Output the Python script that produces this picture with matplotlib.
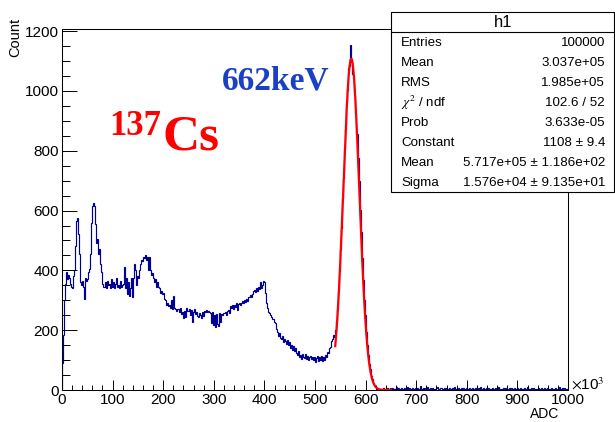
import numpy as np
import matplotlib
matplotlib.use("Agg")
import matplotlib.pyplot as plt
from matplotlib.patches import Rectangle
from matplotlib.ticker import MultipleLocator

plt.rcParams['font.family'] = ['Liberation Sans', 'DejaVu Sans']
plt.rcParams['mathtext.fontset'] = 'stix'

# ---------------- data (counts per 2x10^3 ADC bin) ----------------
bin_width = 2.0
x_min, x_max = 0, 1000

counts_0_100 = [
    90, 185, 300, 355, 395, 370, 385, 375, 355, 345,
    340, 380, 400, 480, 565, 575, 520, 455, 360, 350,
    365, 345, 305, 375, 365, 370, 395, 405, 455, 560,
    615, 625, 615, 555, 490, 505, 455, 470, 420, 395,
    355, 345, 360, 340, 365, 350, 355, 340, 370, 345,
]
counts_100_200 = [
    360, 340, 355, 375, 345, 350, 340, 365, 345, 350,
    355, 410, 340, 375, 320, 360, 315, 340, 375, 310,
    375, 420, 400, 350, 380, 375, 400, 420, 435, 430,
    445, 440, 450, 435, 445, 400, 445, 400, 385, 390,
    375, 360, 370, 345, 360, 345, 340, 325, 330, 320,
]
counts_200_300 = [
    325, 305, 300, 285, 290, 280, 285, 275, 300, 270,
    315, 275, 270, 265, 272, 270, 262, 275, 255, 260,
    240, 265, 245, 275, 265, 270, 250, 268, 228, 262,
    270, 255, 262, 248, 245, 258, 250, 240, 262, 248,
    265, 262, 268, 260, 265, 262, 258, 225, 262, 218,
]
counts_300_400 = [
    250, 210, 255, 222, 215, 258, 228, 255, 250, 258,
    256, 262, 250, 265, 268, 258, 282, 275, 285, 272,
    285, 278, 290, 268, 288, 292, 285, 290, 298, 292,
    300, 295, 305, 298, 312, 310, 318, 312, 322, 330,
    335, 328, 340, 332, 345, 338, 362, 340, 352, 365,
]
counts_400_540 = [
    362, 325, 290, 275, 260, 258, 250, 245, 238, 228,
    225, 205, 195, 182, 190, 175, 170, 180, 162, 172,
    165, 155, 168, 150, 160, 140, 150, 135, 148, 130,
    140, 125, 118, 130, 110, 118, 105, 122, 112, 108,
    120, 105, 115, 100, 110, 115, 104, 112, 100, 110,
    95, 108, 115, 98, 112, 100, 115, 98, 112, 100,
    118, 110, 128, 125, 140, 145, 165, 172, 185, 178,
]
counts_540_630 = [
    200, 232, 272, 330, 398, 472, 540, 642, 708, 810,
    872, 962, 1002, 1075, 1082, 1153, 1098, 1058, 1052, 985,
    925, 855, 775, 698, 602, 528, 442, 368, 302, 252,
    195, 152, 118, 86, 70, 48, 36, 24, 17, 11,
    8, 5, 3, 2, 2,
]
counts_630_1000 = [
    4, 2, 6, 3, 1, 5, 8, 3, 2, 6,
    4, 7, 3, 5, 2, 9, 4, 6, 3, 5,
    8, 4, 2, 6, 5, 3, 10, 4, 6, 2,
    5, 7, 3, 4, 8, 2, 6, 5, 3, 12,
    5, 4, 7, 3, 6, 2, 9, 5, 4, 6,
    3, 8, 4, 5, 2, 6, 11, 4, 3, 7,
    5, 2, 6, 4, 8, 3, 5, 7, 2, 4,
    6, 3, 9, 5, 4, 2, 7, 5, 3, 6,
    4, 8, 2, 5, 6, 3, 4, 7, 5, 2,
    6, 4, 3, 8, 5, 2, 6, 4, 10, 3,
    5, 7, 2, 4, 6, 3, 8, 5, 4, 2,
    7, 3, 5, 6, 2, 4, 9, 3, 5, 4,
    2, 6, 4, 8, 3, 5, 2, 7, 4, 6,
    3, 5, 8, 2, 4, 6, 3, 5, 7, 2,
    5, 4, 6, 3, 9, 2, 5, 4, 6, 3,
    7, 2, 4, 5, 3, 8, 4, 2, 6, 5,
    3, 6, 4, 2, 7, 5, 3, 4, 8, 2,
    5, 3, 6, 4, 2, 5, 9, 3, 4, 6,
    3, 7, 4, 2, 5,
]

# Gaussian fit parameters (from stats box), x in 10^3 ADC
fit_constant = 1108.0
fit_mean = 571.7
fit_sigma = 15.76
fit_range = (540, 650)

stats_labels = ["Entries", "Mean", "RMS", r"$\chi^{2}$ / ndf", "Prob",
                "Constant", "Mean", "Sigma"]
stats_values = ["100000", "3.037e+05", "1.985e+05", "102.6 / 52", "3.633e-05",
                "1108 \u00b1 9.4", "5.717e+05 \u00b1 1.186e+02",
                "1.576e+04 \u00b1 9.135e+01"]

# ---------------- figure ----------------
W, H = 615, 422
fig = plt.figure(figsize=(W / 100, H / 100), dpi=100)

def fx(px):
    return px / W

def fy(py):
    return 1 - py / H

ax_l, ax_r, ax_t, ax_b = 62, 568, 29, 390
ax = fig.add_axes([fx(ax_l), fy(ax_b), fx(ax_r) - fx(ax_l), fy(ax_t) - fy(ax_b)])

counts = np.array(counts_0_100 + counts_100_200 + counts_200_300 + counts_300_400
                  + counts_400_540 + counts_540_630 + counts_630_1000, dtype=float)
edges = x_min + bin_width * np.arange(len(counts) + 1)

ax.stairs(counts, edges, baseline=0, color='#000099', lw=0.85)

xf = np.linspace(fit_range[0], fit_range[1], 600)
yf = fit_constant * np.exp(-0.5 * ((xf - fit_mean) / fit_sigma) ** 2)
ax.plot(xf, yf, color='#ff0000', lw=1.6)

ax.set_xlim(x_min, x_max)
ax.set_ylim(0, 1207)
ax.xaxis.set_major_locator(MultipleLocator(100))
ax.xaxis.set_minor_locator(MultipleLocator(20))
ax.yaxis.set_major_locator(MultipleLocator(200))
ax.yaxis.set_minor_locator(MultipleLocator(50))
ax.tick_params(axis='x', which='major', direction='in', length=7.5, width=0.7,
               labelsize=11, pad=2, top=False)
ax.tick_params(axis='x', which='minor', direction='in', length=3.8, width=0.7, top=False)
ax.tick_params(axis='y', which='major', direction='in', length=11, width=0.7,
               labelsize=11, pad=2, right=False)
ax.tick_params(axis='y', which='minor', direction='in', length=6, width=0.7, right=False)
for s in ax.spines.values():
    s.set_linewidth(0.75)

# axis titles
fig.text(fx(559), fy(414), "ADC", ha='right', va='center', fontsize=10)
fig.text(fx(15), fy(18), "Count", ha='center', va='top', rotation=90, fontsize=10.5)
fig.text(fx(571), fy(384), r"$\times$10$^{3}$", ha='left', va='center', fontsize=11)

# annotations
fig.text(fx(222), fy(90), "662keV", ha='left', va='baseline', fontsize=24,
         fontweight='bold', family='Liberation Serif', color='#1a40c4')
fig.text(fx(109), fy(135), "137", ha='left', va='baseline', fontsize=25,
         fontweight='bold', family='Liberation Serif', color='#ff0000')
fig.text(fx(163), fy(150), "Cs", ha='left', va='baseline', fontsize=37,
         fontweight='bold', family='Liberation Serif', color='#ff0000')

# stats box
bx_l, bx_r, bx_t, bx_b, bx_sep = 391, 614, 12, 192, 32
fig.add_artist(Rectangle((fx(bx_l), fy(bx_b)), fx(bx_r) - fx(bx_l), fy(bx_t) - fy(bx_b),
                         transform=fig.transFigure, facecolor='white',
                         edgecolor='black', lw=0.8, zorder=5))
fig.add_artist(plt.Line2D([fx(bx_l), fx(bx_r)], [fy(bx_sep), fy(bx_sep)],
                          transform=fig.transFigure, color='black', lw=0.8, zorder=6))
fig.text(fx(503), fy(22.5), "h1", ha='center', va='center', fontsize=12, zorder=7)
for i, (lab, val) in enumerate(zip(stats_labels, stats_values)):
    yy = fy(43 + 20 * i)
    fig.text(fx(401), yy, lab, ha='left', va='center', fontsize=9.6, zorder=7)
    fig.text(fx(605), yy, val, ha='right', va='center', fontsize=9.6, zorder=7)

fig.savefig("out.png", dpi=100)
